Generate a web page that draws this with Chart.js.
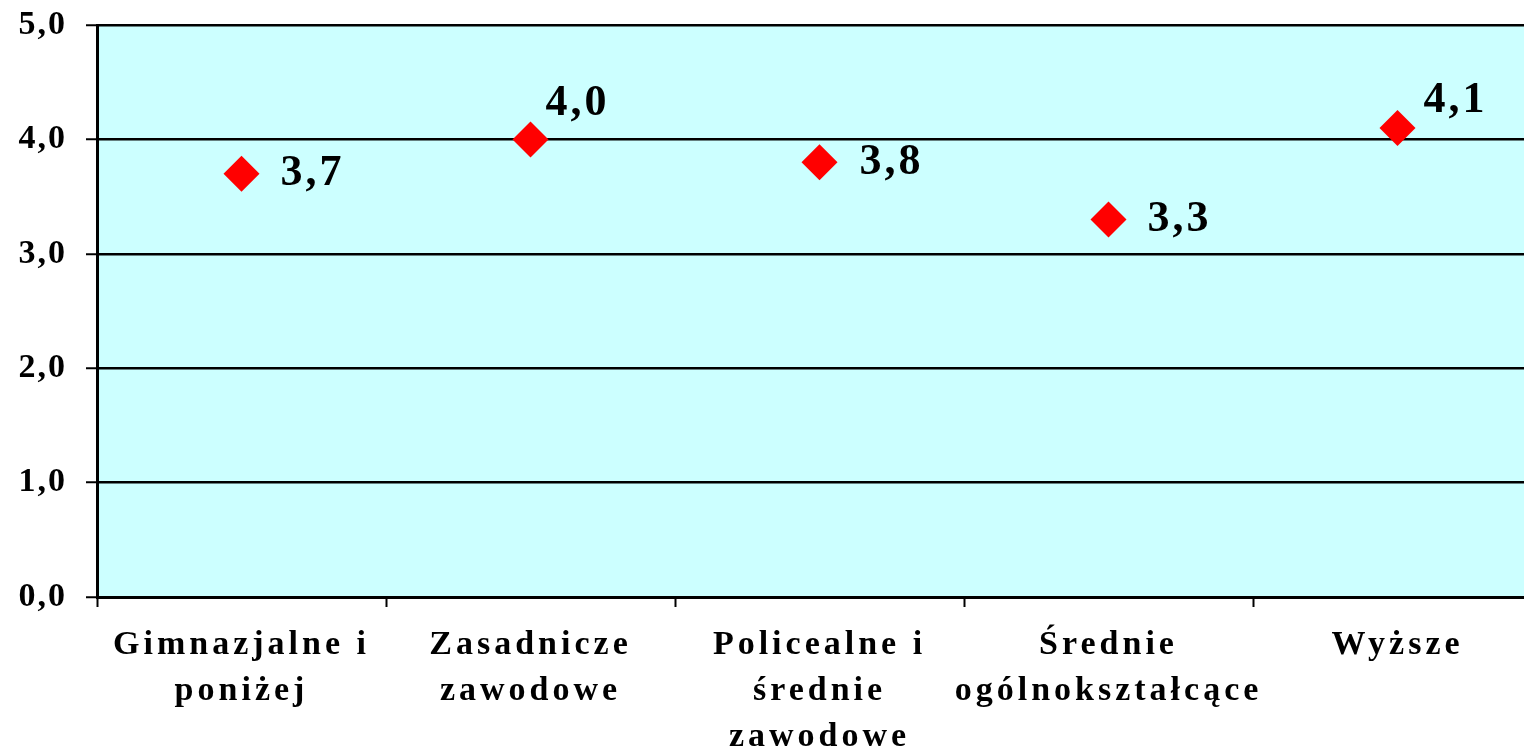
<!DOCTYPE html>
<html>
<head>
<meta charset="utf-8">
<script src="https://cdn.jsdelivr.net/npm/chart.js@4"></script>
<style>
  html, body { margin: 0; padding: 0; background: #fff; overflow: hidden; }
  .wrap { position: absolute; left: 0; top: 0; width: 1560px; height: 747px; }
  canvas { display: block; max-width: none !important; }
</style>
</head>
<body>
<div class="wrap"><canvas id="chart"></canvas></div>
<script>
const categories = [
    ['Gimnazjalne i', 'poniżej'],
    ['Zasadnicze', 'zawodowe'],
    ['Policealne i', 'średnie', 'zawodowe'],
    ['Średnie', 'ogólnokształcące'],
    'Wyższe'
]
const values = [3.7, 4.0, 3.8, 3.3, 4.1]
const yTicks = [0, 1, 2, 3, 4, 5]

// where each value label sits relative to its point (px)
const labelOffsets = [[39, 0], [15, -36], [40, 0], [39, 0], [26, -27]]

const serif = "'Liberation Serif', 'Times New Roman', serif"
const fmt = v => v.toFixed(1).replace('.', ',')

// cyan plot background
const areaFill = {
    id: 'areaFill',
    beforeDraw(chart) {
        const {ctx, chartArea: a} = chart
        ctx.save()
        ctx.fillStyle = '#CCFFFF'
        ctx.fillRect(a.left, a.top, a.right - a.left, a.bottom - a.top)
        ctx.restore()
    }
}

// letter spacing on the axis labels
function spaced(scale, px) {
    if (scale._spaced) return
    const orig = scale.drawLabels.bind(scale)
    scale.drawLabels = area => {
        const ctx = scale.ctx
        ctx.save()
        ctx.letterSpacing = px
        orig(area)
        ctx.restore()
    }
    scale._spaced = true
}
const spacing = {
    id: 'spacing',
    beforeDraw(chart) {
        spaced(chart.scales.x, '4px')
        spaced(chart.scales.y, '2px')
    }
}

const valueLabels = {
    id: 'valueLabels',
    afterDatasetsDraw(chart) {
        const ctx = chart.ctx
        const meta = chart.getDatasetMeta(0)
        ctx.save()
        ctx.font = 'bold 44px ' + serif
        ctx.letterSpacing = '3px'
        ctx.fillStyle = '#000'
        ctx.textAlign = 'left'
        ctx.textBaseline = 'middle'
        meta.data.forEach((pt, i) => {
            const [dx, dy] = labelOffsets[i]
            ctx.fillText(fmt(values[i]), pt.x + dx, pt.y + dy)
        })
        ctx.restore()
    }
}

new Chart(document.getElementById('chart'), {
    type: 'line',
    data: {
        labels: categories,
        datasets: [{
            data: values,
            showLine: false,
            pointStyle: 'rectRot',
            pointRadius: 18,
            pointHoverRadius: 18,
            pointBackgroundColor: '#FF0000',
            pointBorderWidth: 0
        }]
    },
    options: {
        responsive: true,
        maintainAspectRatio: false,
        animation: false,
        events: [],
        layout: {padding: {top: 25, right: 2, left: 0, bottom: 0}},
        plugins: {
            legend: {display: false},
            tooltip: {enabled: false}
        },
        scales: {
            x: {
                type: 'category',
                offset: true,
                grid: {
                    offset: true,
                    drawOnChartArea: false,
                    drawTicks: true,
                    tickLength: 10,
                    tickWidth: 2,
                    tickColor: '#000'
                },
                border: {display: true, color: '#000', width: 3},
                ticks: {
                    color: '#000',
                    padding: 15,
                    maxRotation: 0,
                    autoSkip: false,
                    font: {family: serif, size: 34, weight: 'bold', lineHeight: 1.353}
                },
                afterFit: s => {
                    s.height = 150
                    s.paddingLeft = 0
                    s.paddingRight = 0
                }
            },
            y: {
                min: 0,
                max: 5,
                afterBuildTicks: s => { s.ticks = yTicks.map(v => ({value: v})) },
                grid: {
                    color: '#000',
                    lineWidth: 2.5,
                    tickLength: 11,
                    tickWidth: 2,
                    tickColor: '#000'
                },
                border: {display: true, color: '#000', width: 3},
                ticks: {
                    color: '#000',
                    padding: 19,
                    callback: v => fmt(v),
                    font: {family: serif, size: 34, weight: 'bold'}
                },
                afterFit: s => {
                    s.width = 97
                    s.paddingTop = 0
                    s.paddingBottom = 0
                }
            }
        }
    },
    plugins: [areaFill, spacing, valueLabels]
})
</script>
</body>
</html>
